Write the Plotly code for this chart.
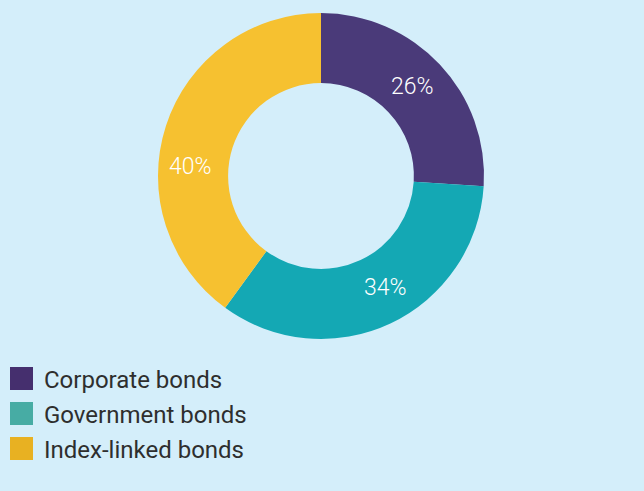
import plotly.graph_objects as go

# Bond allocation
labels = ["Corporate bonds", "Government bonds", "Index-linked bonds"]
values = [26, 34, 40]
slice_colors = ["#4a3a79", "#14a8b4", "#f6c130"]
key_colors = ["#452f6e", "#47aca4", "#e8b122"]

# Pixel anchor points for the percentage labels inside the ring
label_px = [(412, 86), (385, 287), (191, 166)]

W, H = 644, 491
bg = "#d4eefa"
FONT = "Roboto"

fig = go.Figure(
    go.Pie(
        labels=labels,
        values=values,
        hole=0.57,
        sort=False,
        direction="clockwise",
        rotation=0,
        marker=dict(colors=slice_colors, line=dict(width=0)),
        textinfo="none",
        domain=dict(x=[158 / W, 484 / W], y=[1 - 339 / H, 1 - 13 / H]),
        showlegend=False,
        hoverinfo="label+percent",
    )
)

annotations = []
for v, (px, py) in zip(values, label_px):
    annotations.append(dict(
        xref="paper", yref="paper", x=px / W, y=1 - py / H,
        xanchor="center", yanchor="middle", showarrow=False,
        text=f"{v}%", font=dict(family=FONT, size=23, color="white", weight=300),
    ))

# Hand-drawn key below the donut
shapes = []
for i, (name, col) in enumerate(zip(labels, key_colors)):
    top = 367 + i * 35
    shapes.append(dict(
        type="rect", xref="paper", yref="paper",
        x0=10 / W, x1=33 / W, y0=1 - (top + 23) / H, y1=1 - top / H,
        fillcolor=col, line=dict(width=0),
    ))
    annotations.append(dict(
        xref="paper", yref="paper", x=42 / W, y=1 - (top + 13) / H,
        xanchor="left", yanchor="middle", showarrow=False,
        text=name, font=dict(family=FONT, size=24, color="#2e2e2e", weight=400),
    ))

fig.update_layout(
    width=W, height=H,
    margin=dict(l=0, r=0, t=0, b=0),
    paper_bgcolor=bg, plot_bgcolor=bg,
    shapes=shapes, annotations=annotations,
)

fig.write_html("out.html")
